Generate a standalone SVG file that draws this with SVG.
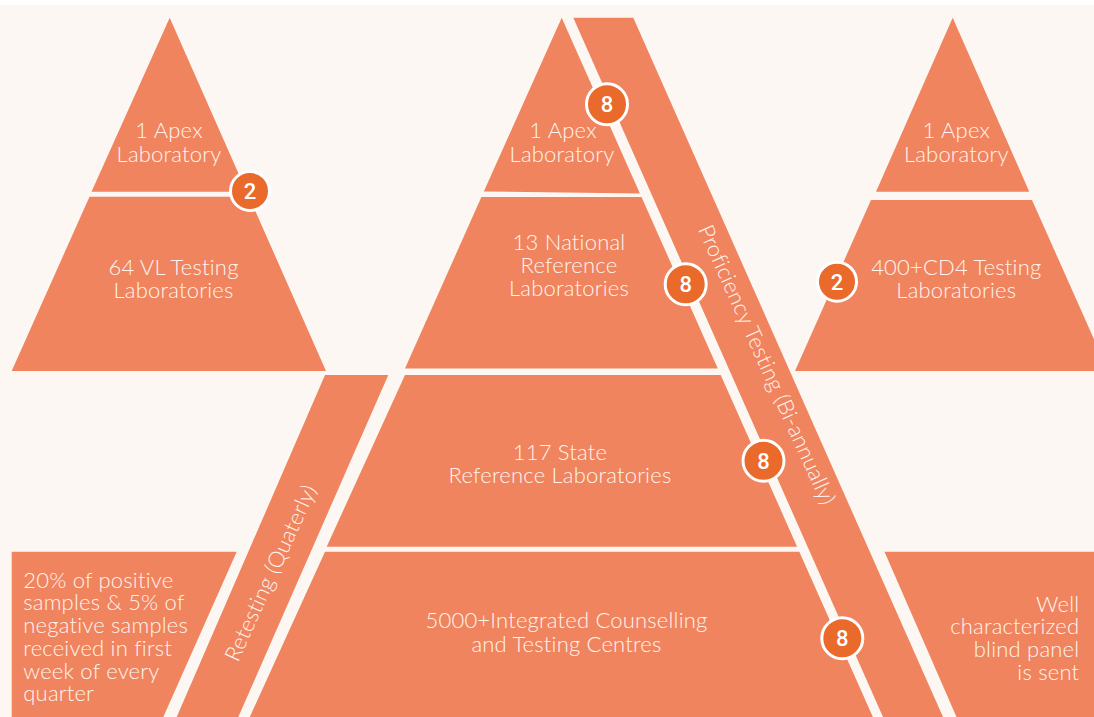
<svg xmlns="http://www.w3.org/2000/svg" width="1094" height="717" viewBox="0 0 1094 717">
<style>
.bg{fill:#fdf7f4}
.t{fill:#f0845e}
.lb{font-family:Lato,"Liberation Sans",sans-serif;font-weight:300;font-size:22px;letter-spacing:0.2px;fill:#fff4ee}
.m{text-anchor:middle}
.r{text-anchor:end}
.c circle{fill:#e96a2b;stroke:#ffffff;stroke-width:3}
.c text{font-family:Roboto,"Liberation Sans",sans-serif;font-weight:500;font-size:22px;fill:#ffffff;text-anchor:middle}
</style>
<rect class="bg" x="0" y="0" width="1094" height="717"/>
<rect x="0" y="0" width="1094" height="5" fill="#ffffff"/>

<g id="left-pyramid">
  <g id="lp-apex">
    <polygon class="t" points="169.7,17.7 246.6,191.7 91.5,191.7"/>
    <text class="lb m" x="169" y="138">1 Apex</text>
    <text class="lb m" x="169" y="161.5">Laboratory</text>
  </g>
  <g id="lp-vl">
    <polygon class="t" points="89.5,196.7 249,196.7 326,371 11.7,371"/>
    <text class="lb m" x="173.5" y="275">64 VL Testing</text>
    <text class="lb m" x="173.5" y="297.7">Laboratories</text>
  </g>
</g>

<g id="middle-pyramid">
  <g id="mp-apex">
    <polygon class="t" points="561.7,17.7 639.9,193.5 483.8,191.5"/>
    <text class="lb m" x="563" y="138">1 Apex</text>
    <text class="lb m" x="562" y="161.5">Laboratory</text>
  </g>
  <g id="mp-national">
    <polygon class="t" points="481.4,197 641.5,197 717.8,368.5 405,368.5"/>
    <text class="lb m" x="569" y="250">13 National</text>
    <text class="lb m" x="569" y="272.7">Reference</text>
    <text class="lb m" x="569" y="295.7">Laboratories</text>
  </g>
  <g id="mp-state">
    <polygon class="t" points="405,375 720.7,375 797.1,546.7 326.7,546.7"/>
    <text class="lb m" x="560" y="460">117 State</text>
    <text class="lb m" x="560" y="483.3">Reference Laboratories</text>
  </g>
  <g id="mp-ictc">
    <polygon class="t" points="325,551.7 799.3,551.7 872.9,717 249.8,717"/>
    <text class="lb m" x="566.5" y="628.3">5000+Integrated Counselling</text>
    <text class="lb m" x="566.5" y="651.7">and Testing Centres</text>
  </g>
</g>

<g id="right-pyramid">
  <g id="rp-apex">
    <polygon class="t" points="952.7,17.7 1029.3,191.7 876,191.7"/>
    <text class="lb m" x="956.3" y="138">1 Apex</text>
    <text class="lb m" x="956.3" y="161.5">Laboratory</text>
  </g>
  <g id="rp-cd4">
    <polygon class="t" points="871,200 1032,200 1108.2,371 795,371"/>
    <text class="lb m" x="956.3" y="275">400+CD4 Testing</text>
    <text class="lb m" x="956.3" y="297.7">Laboratories</text>
  </g>
</g>

<g id="proficiency-band">
  <polygon class="t" points="573.3,17.7 633.3,17.7 943,717 883,717"/>
  <text class="lb m" transform="translate(760,368) rotate(65.8)" x="0" y="0">Proficiency Testing (Bi-annually)</text>
</g>

<g id="retesting-band">
  <polygon class="t" points="325,375 388.3,375 238.3,717 176.7,717"/>
  <text class="lb m" transform="translate(277.5,576) rotate(-65.5)" x="0" y="0">Retesting (Quaterly)</text>
</g>

<g id="retesting-note">
  <polygon class="t" points="11.7,551.7 236.7,551.7 163.3,717 11.7,717"/>
  <text class="lb" x="23.3" y="587.7">20% of positive</text>
  <text class="lb" x="23.3" y="610.4">samples &amp; 5% of</text>
  <text class="lb" x="23.3" y="633.1">negative samples</text>
  <text class="lb" x="23.3" y="655.8">received in first</text>
  <text class="lb" x="23.3" y="678.5">week of every</text>
  <text class="lb" x="23.3" y="701.2">quarter</text>
</g>

<g id="blind-panel-note">
  <polygon class="t" points="884.5,551.7 1094,551.7 1094,717 956.5,717"/>
  <text class="lb r" x="1079.3" y="611.5">Well</text>
  <text class="lb r" x="1079.3" y="634.2">characterized</text>
  <text class="lb r" x="1079.3" y="656.9">blind panel</text>
  <text class="lb r" x="1079.3" y="679.6">is sent</text>
</g>

<g id="connectors">
  <g id="badge-vl" class="c"><circle cx="250" cy="191" r="19.5"/><text x="250" y="199">2</text></g>
  <g id="badge-cd4" class="c"><circle cx="837" cy="281.7" r="19.5"/><text x="837" y="289.7">2</text></g>
  <g id="badge-pt1" class="c"><circle cx="607" cy="104.2" r="20.5"/><text x="607" y="112.2">8</text></g>
  <g id="badge-pt2" class="c"><circle cx="685.7" cy="284.3" r="20.5"/><text x="685.7" y="292.3">8</text></g>
  <g id="badge-pt3" class="c"><circle cx="763.5" cy="460.7" r="20.5"/><text x="763.5" y="468.7">8</text></g>
  <g id="badge-pt4" class="c"><circle cx="842.3" cy="638.3" r="20.5"/><text x="842.3" y="646.3">8</text></g>
</g>
</svg>
